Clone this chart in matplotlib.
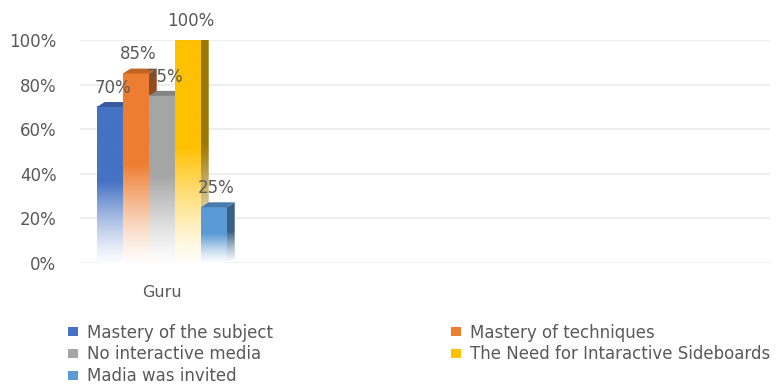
import matplotlib
matplotlib.use('Agg')
import matplotlib.pyplot as plt
from matplotlib.patches import Polygon, Patch
from matplotlib.colors import to_rgb
import numpy as np

categories = ['Guru']
series = ['Mastery of the subject', 'Mastery of techniques', 'No interactive media',
          'The Need for Intaractive Sideboards', 'Madia was invited']
values = [70, 85, 75, 100, 25]
colors = ['#4472C4', '#ED7D31', '#A5A5A5', '#FFC000', '#5B9BD5']
yticks = [0, 20, 40, 60, 80, 100]

plt.rcParams['font.family'] = ['DejaVu Sans']
text_color = '#595959'

fig = plt.figure(figsize=(7.8, 3.85), dpi=100)
ax = fig.add_axes([0.1026, 0.317, 0.885, 0.579])

dx, dy = 0.3, 2.2
n = len(series)


def gradient(color, shade=1.0, steps=64):
    rgb = np.array(to_rgb(color)) * shade
    t = np.linspace(0, 1, steps)
    mix = np.clip(0.05 + t / 0.55, 0, 1)[:, None] ** 1.3
    col = mix * rgb + (1 - mix) * np.ones(3)
    return col[:, None, :]


for ci, cat in enumerate(categories):
    for i, (name, v, c) in enumerate(zip(series, values, colors)):
        x0 = ci - n / 2 + i
        z = 2 + i
        # front face
        ax.imshow(gradient(c), extent=[x0, x0 + 1, 0, v], origin='lower',
                  aspect='auto', zorder=z, interpolation='bilinear')
        # side face
        side = Polygon([(x0 + 1, 0), (x0 + 1 + dx, dy), (x0 + 1 + dx, v + dy), (x0 + 1, v)],
                       closed=True, facecolor='none', edgecolor='none', zorder=z)
        ax.add_patch(side)
        im = ax.imshow(gradient(c, 0.62), extent=[x0 + 1, x0 + 1 + dx, 0, v + dy],
                       origin='lower', aspect='auto', zorder=z - 0.1, interpolation='bilinear')
        im.set_clip_path(side)
        # top face
        top = Polygon([(x0, v), (x0 + 1, v), (x0 + 1 + dx, v + dy), (x0 + dx, v + dy)],
                      closed=True, facecolor=np.array(to_rgb(c)) * 0.8, edgecolor='none', zorder=z)
        ax.add_patch(top)
        ax.text(x0 + 0.5 + 0.1, v + 4.5, '%d%%' % v, ha='center', va='bottom',
                fontsize=12, color=text_color, zorder=20)

ax.set_xlim(-3.15, 23.4)
ax.set_ylim(0, 100)
ax.set_yticks(yticks)
ax.set_yticklabels(['%d%%' % t for t in yticks])
ax.set_xticks(range(len(categories)))
ax.set_xticklabels(categories)
ax.tick_params(axis='y', length=0, pad=17, labelsize=12, labelcolor=text_color)
ax.tick_params(axis='x', length=0, pad=16, labelsize=11.5, labelcolor=text_color)
ax.grid(axis='y', color='#ebebeb', linewidth=1.2, zorder=0)
ax.set_axisbelow(True)
for s in ax.spines.values():
    s.set_visible(False)

handles = [Patch(facecolor=c, label=s) for s, c in zip(series, colors)]
order = [0, 2, 4, 1, 3]
fig.legend([handles[k] for k in order], [series[k] for k in order], ncol=2,
           loc='upper left', bbox_to_anchor=(0.076, 0.181), frameon=False,
           fontsize=12, labelcolor=text_color, handlelength=0.6, handleheight=0.45,
           handletextpad=0.55, columnspacing=10.7, labelspacing=0.22, borderpad=0)

fig.savefig('out.png', dpi=100)
